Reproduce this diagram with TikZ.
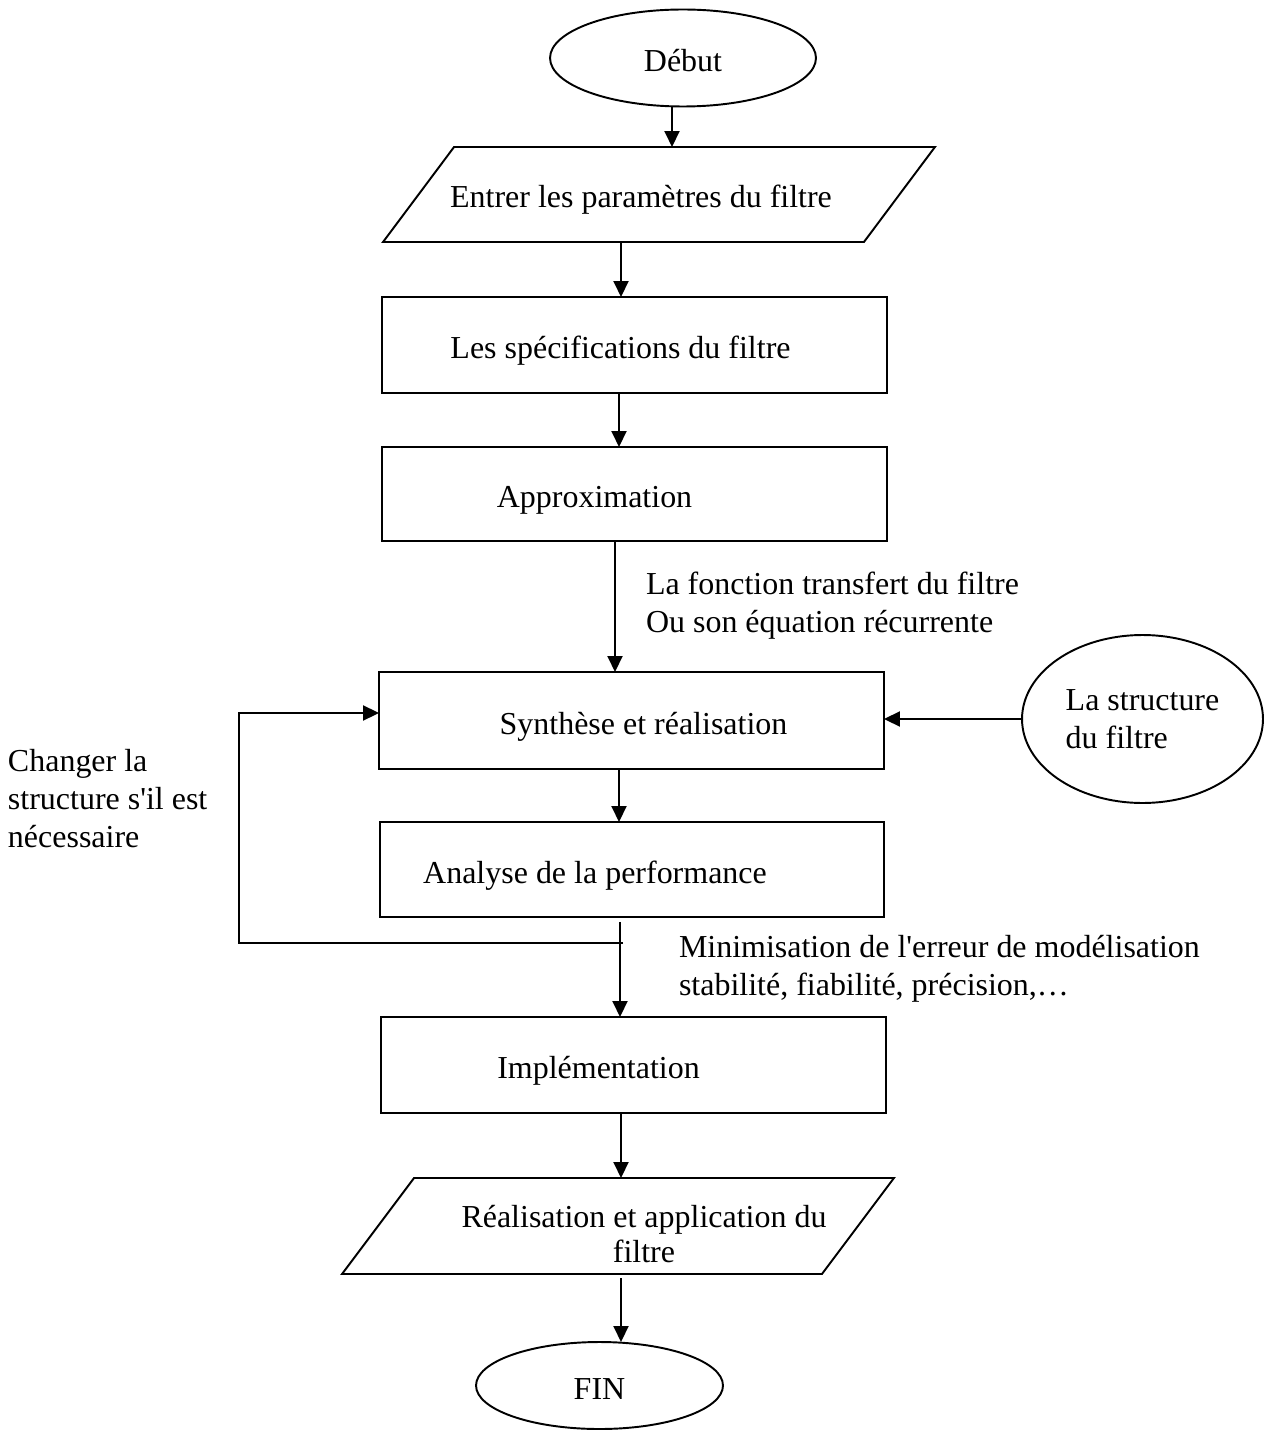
\documentclass[tikz,border=0pt]{standalone}
\usepackage{fontspec}
\setmainfont{Liberation Serif}[Ligatures=TeXOff]
\usetikzlibrary{arrows.meta,shapes.geometric,calc}
\begin{document}
\begin{tikzpicture}[x=0.02cm,y=-0.02cm,
  every node/.style={font=\fontsize{18.2}{21.6}\selectfont, inner sep=0pt, outer sep=0pt},
  line/.style={line width=1.1pt},
  arr/.style={line, -{Triangle[length=0.32cm,width=0.3cm]}},
  oneline/.style={text height=0.68cm, text depth=0.14cm},
  procbox/.style={draw, line width=1.1pt, minimum width=10.1cm, oneline},
  term/.style={draw, ellipse, line width=1.1pt},
  note/.style={align=left, anchor=west}]
\useasboundingbox (0,0) rectangle (1268,1432);

% terminals
\node[term, oneline, minimum width=5.32cm, minimum height=1.94cm] (start) at (683,58) {Début};
\node[term, oneline, minimum width=4.94cm, minimum height=1.74cm] (end) at (599.5,1385.5) {FIN};
\node[term, minimum width=4.82cm, minimum height=3.36cm, align=left] (struct) at (1142.5,719) {La structure\\du filtre};

% input / output parallelograms
\node[oneline, minimum width=11.04cm, minimum height=1.9cm] (in) at (659,194.5) {\hspace*{-0.72cm}Entrer les paramètres du filtre};
\draw[line] ($(in.north west)+(71,0)$) -- (in.north east) -- ($(in.south east)+(-71,0)$) -- (in.south west) -- cycle;

\node[minimum width=11.04cm, minimum height=1.92cm, align=center, font=\fontsize{18.2}{19.9}\selectfont] (out) at (618,1226) {\rule{0pt}{0.77cm}\hspace*{1.04cm}Réalisation et application du\\\hspace*{1.04cm}filtre};
\draw[line] ($(out.north west)+(72,0)$) -- (out.north east) -- ($(out.south east)+(-72,0)$) -- (out.south west) -- cycle;

% process boxes
\node[procbox, minimum height=1.92cm] (spec) at (634.5,345) {\hspace*{-0.56cm}Les spécifications du filtre};
\node[procbox, minimum height=1.88cm] (approx) at (634.5,494) {\hspace*{-1.6cm}Approximation};
\node[procbox, minimum height=1.94cm] (synth) at (631.5,720.5) {\hspace*{0.48cm}Synthèse et réalisation};
\node[procbox, minimum height=1.9cm] (perf) at (632,869.5) {\hspace*{-1.48cm}Analyse de la performance};
\node[procbox, minimum height=1.92cm] (impl) at (633.5,1065) {\hspace*{-1.4cm}Implémentation};

% side notes
\node[note] (lbl1) at (646,606) {La fonction transfert du filtre\\Ou son équation récurrente};
\node[note] (lbl2) at (679,969) {Minimisation de l'erreur de modélisation\\stabilité, fiabilité, précision,…};
\node[note] (lbl3) at (8,799) {Changer la\\structure s'il est\\nécessaire};

% connector columns
\coordinate (c672) at (672,0);
\coordinate (c621) at (621,0);
\coordinate (c619) at (619,0);
\coordinate (c615) at (615,0);
\coordinate (c620) at (620,0);
\coordinate (split) at (620,943);
\coordinate (back) at (239,713);

\draw[arr] (start.south -| c672) -- (in.north -| c672);
\draw[arr] (in.south -| c621) -- (spec.north -| c621);
\draw[arr] (spec.south -| c619) -- (approx.north -| c619);
\draw[arr] (approx.south -| c615) -- (synth.north -| c615);
\draw[arr] (synth.south -| c619) -- (perf.north -| c619);
\draw[arr] ([yshift=-0.1cm]perf.south -| c620) -- (impl.north -| c620);
\draw[arr] ($(split)+(3,0)$) -| (back) -- (synth.west |- back);
\draw[arr] (struct.west) -- (synth.east |- struct.west);
\draw[arr] (impl.south -| c621) -- (out.north -| c621);
\draw[arr] ([yshift=-0.08cm]out.south -| c621) -- (end.north -| c621);
\end{tikzpicture}
\end{document}
